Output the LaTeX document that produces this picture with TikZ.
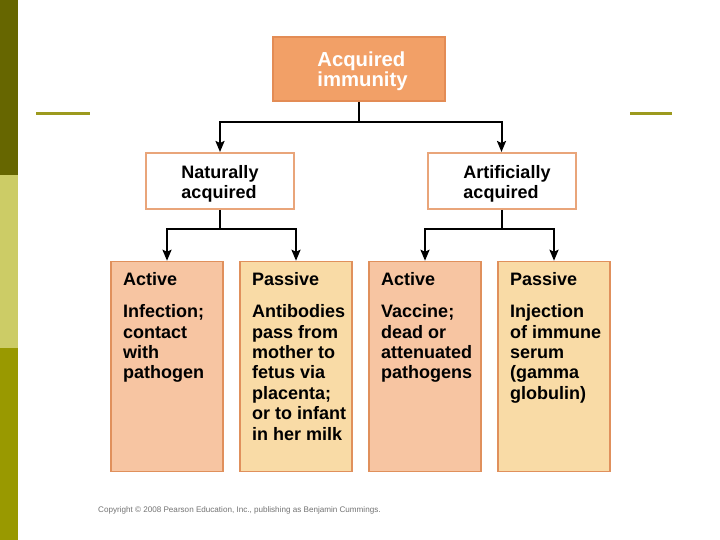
\documentclass[tikz,border=0pt]{standalone}
\usepackage{fontspec}
\setmainfont{Liberation Sans}
\usetikzlibrary{arrows.meta}
\definecolor{bardark}{HTML}{666600}
\definecolor{barlight}{HTML}{CCCC66}
\definecolor{barmid}{HTML}{999900}
\definecolor{deco}{HTML}{9C9A1E}
\definecolor{topfill}{HTML}{F2A067}
\definecolor{topedge}{HTML}{E38C55}
\definecolor{peach}{HTML}{F7C5A2}
\definecolor{straw}{HTML}{F9DBA6}
\definecolor{boxedge}{HTML}{E0905C}
\definecolor{midedge}{HTML}{E9A57A}
\tikzset{
  arr/.style={line width=2pt,-{Stealth[length=11pt,width=9pt,inset=2pt]}},
  stem/.style={line width=2pt},
  topbox/.style={draw=topedge,fill=topfill,line width=1.5pt,minimum width=172pt,minimum height=64pt,inner sep=0pt},
  midbox/.style={draw=midedge,fill=white,line width=2pt,minimum width=148pt,minimum height=56pt,inner sep=0pt},
  lowbox/.style={draw=boxedge,line width=1.5pt,minimum width=112pt,minimum height=210pt,inner sep=0pt},
  boxtext/.style={anchor=north west,inner sep=0pt,align=left,font=\fontsize{18}{20.4}\selectfont\bfseries},
  midtext/.style={align=left,inner sep=0pt,font=\fontsize{18}{20}\selectfont\bfseries},
}
\begin{document}
\begin{tikzpicture}[x=1pt,y=-1pt]
\useasboundingbox (0,0) rectangle (720,540);
\fill[white] (0,0) rectangle (720,540);
% side bar
\fill[bardark] (0,0) rectangle (18,175);
\fill[barlight] (0,175) rectangle (18,348);
\fill[barmid] (0,348) rectangle (18,540);
\fill[deco] (36,112.5) rectangle (90,115.5);
\fill[deco] (630,112.5) rectangle (672,115.5);
% boxes
\node[topbox] (top) at (359,69) {};
\node[align=left,inner sep=0pt,text=white,font=\fontsize{20.3}{19.5}\selectfont\bfseries] (toptext) at (362.5,71.5) {Acquired\\immunity};
\node[midbox] (nat) at (220,181) {};
\node[midtext] (nattext) at (220,184) {Naturally\\acquired};
\node[midbox] (art) at (501.5,181) {};
\node[midtext] (arttext) at (507,184) {Artificially\\acquired};
\node[lowbox,fill=peach] (b1) at (167,366.5) {};
\node[lowbox,fill=straw] (b2) at (296,366.5) {};
\node[lowbox,fill=peach] (b3) at (425,366.5) {};
\node[lowbox,fill=straw] (b4) at (554,366.5) {};
\node[boxtext] (t1h) at (123,272.5) {Active};
\node[boxtext] (t2h) at (252,272.5) {Passive};
\node[boxtext] (t3h) at (381,272.5) {Active};
\node[boxtext] (t4h) at (510,272.5) {Passive};
\node[boxtext] (t1) at (123,304.5) {Infection;\\contact\\with\\pathogen};
\node[boxtext] (t2) at (252,304.5) {Antibodies\\pass from\\mother to\\fetus via\\placenta;\\or to infant\\in her milk};
\node[boxtext] (t3) at (381,304.5) {Vaccine;\\dead or\\attenuated\\pathogens};
\node[boxtext] (t4) at (510,304.5) {Injection\\of immune\\serum\\(gamma\\globulin)};
% connectors
\draw[stem] (top.south) -- ++(0,20) coordinate (j1);
\draw[arr] (j1) -| (nat.north);
\draw[arr] (j1) -| (art.north);
\draw[stem] (nat.south) -- ++(0,19) coordinate (j2);
\draw[arr] (j2) -| (b1.north);
\draw[arr] (j2) -| (b2.north);
\draw[stem] (art.south) -- ++(0,19) coordinate (j3);
\draw[arr] (j3) -| (b3.north);
\draw[arr] (j3) -| (b4.north);
% copyright
\node[anchor=west,inner sep=0pt,text=black!55,font=\fontsize{8.1}{9}\selectfont] (copy) at (98,510) {Copyright © 2008 Pearson Education, Inc., publishing as Benjamin Cummings.};
\end{tikzpicture}
\end{document}
